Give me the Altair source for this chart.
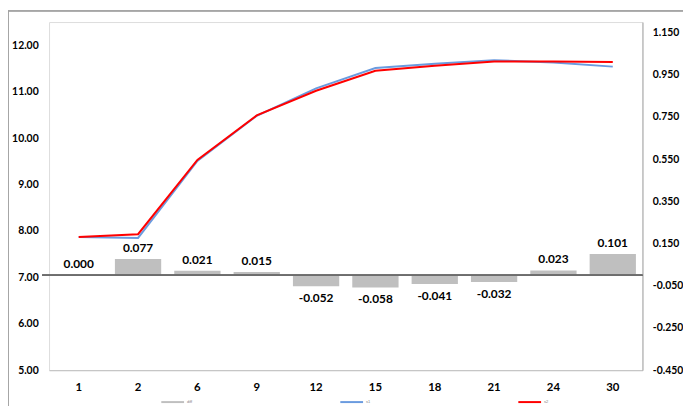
import altair as alt
import pandas as pd

cats = ["1", "2", "6", "9", "12", "15", "18", "21", "24", "30"]
diff = [0.000, 0.077, 0.021, 0.015, -0.052, -0.058, -0.041, -0.032, 0.023, 0.101]
blue = [7.87, 7.85, 9.51, 10.48, 11.07, 11.51, 11.60, 11.68, 11.63, 11.54]
red = [7.87, 7.93, 9.53, 10.49, 11.02, 11.45, 11.56, 11.65, 11.65, 11.64]
series_names = ["diff", "s1", "s2"]
series_colors = ["#BFBFBF", "#6A9BDF", "#FF0000"]
left_ticks = [5, 6, 7, 8, 9, 10, 11, 12]
right_ticks = [-0.45, -0.25, -0.05, 0.15, 0.35, 0.55, 0.75, 0.95, 1.15]

FONT = "Lato"
W, H = 600, 352

df_bar = pd.DataFrame({
    "cat": cats,
    "idx": list(range(len(cats))),
    "diff": diff,
    "label": [f"{v:.3f}" for v in diff],
    "series": [series_names[0]] * len(cats),
})
df_line = pd.DataFrame({
    "cat": cats * 2,
    "idx": list(range(len(cats))) * 2,
    "value": blue + red,
    "series": [series_names[1]] * len(cats) + [series_names[2]] * len(cats),
})

xenc = alt.X(
    "cat:O",
    sort=cats,
    scale=alt.Scale(domain=cats, paddingInner=0.22, paddingOuter=0.11),
    axis=alt.Axis(
        title=None, labelAngle=0, ticks=False, domainColor="#BFBFBF",
        labelFont=FONT, labelFontSize=11.5, labelFontWeight="bold",
        labelColor="#000000", labelPadding=12,
    ),
)

color = alt.Color(
    "series:N",
    scale=alt.Scale(domain=series_names, range=series_colors),
    legend=alt.Legend(
        title=None, orient="none", legendX=112.5, legendY=371.5,
        direction="horizontal", columns=3, symbolType="stroke",
        symbolSize=529, symbolStrokeWidth=2, labelFontSize=4,
        labelOffset=2, columnPadding=145, labelColor="#808080",
    ),
)

lines = alt.Chart(df_line).mark_line(strokeWidth=2).encode(
    x=xenc,
    y=alt.Y(
        "value:Q",
        scale=alt.Scale(domain=[5, 12.5], nice=False, zero=False),
        axis=alt.Axis(
            orient="left", title=None, values=left_ticks, format=".2f",
            ticks=False, domain=False, grid=False, labelPadding=11,
            labelFont=FONT, labelFontSize=10.5, labelFontWeight="bold",
            labelColor="#000000",
        ),
    ),
    color=color,
    order=alt.Order("idx:Q"),
)

border_v = alt.Chart(df_bar).mark_rule(color="#A6A6A6", strokeWidth=1).encode(
    x=alt.value(-41), y=alt.value(-11.5), y2=alt.value(H + 60)
)
border_h = alt.Chart(df_bar).mark_rule(color="#A6A6A6", strokeWidth=1).encode(
    x=alt.value(-41), x2=alt.value(W + 60), y=alt.value(-11.5)
)

left_layer = alt.layer(border_v, border_h, lines)

yright = alt.Y(
    "diff:Q",
    scale=alt.Scale(domain=[-0.45, 1.2], nice=False, zero=False),
    axis=alt.Axis(
        orient="right", title=None, values=right_ticks,
        labelExpr="replace(format(datum.value, '.3f'), '\u2212', '-')",
        ticks=False, grid=False, domainColor="#A6A6A6", labelPadding=10,
        labelFont=FONT, labelFontSize=10.5, labelFontWeight="bold",
        labelColor="#000000",
    ),
)

bars = alt.Chart(df_bar).mark_bar(color="#BFBFBF").encode(
    x=xenc, y=yright, y2=alt.datum(0), color=color
)
zero_rule = alt.Chart(df_bar).mark_rule(color="#6E6E6E", strokeWidth=1.2).encode(
    y=alt.datum(0), x=alt.value(-7), x2=alt.value(W)
)
text_pos = alt.Chart(df_bar).transform_filter("datum.diff >= 0").mark_text(
    baseline="bottom", dy=-4, font=FONT, fontSize=12, fontWeight="bold", color="#000000"
).encode(x=xenc, y=yright, text="label:N")
text_neg = alt.Chart(df_bar).transform_filter("datum.diff < 0").mark_text(
    baseline="top", dy=7, font=FONT, fontSize=12, fontWeight="bold", color="#000000"
).encode(x=xenc, y=yright, text="label:N")

right_layer = alt.layer(bars, zero_rule, text_pos, text_neg)

chart = alt.layer(left_layer, right_layer).resolve_scale(
    y="independent"
).properties(
    width=W, height=H,
    autosize=alt.AutoSizeParams(type="none"),
    padding={"left": 41.5, "top": 12, "right": 41, "bottom": 34},
).configure_view(stroke=None).configure(background="#FFFFFF")

chart.save("out.html", embed_options={"renderer": "svg", "actions": False})
